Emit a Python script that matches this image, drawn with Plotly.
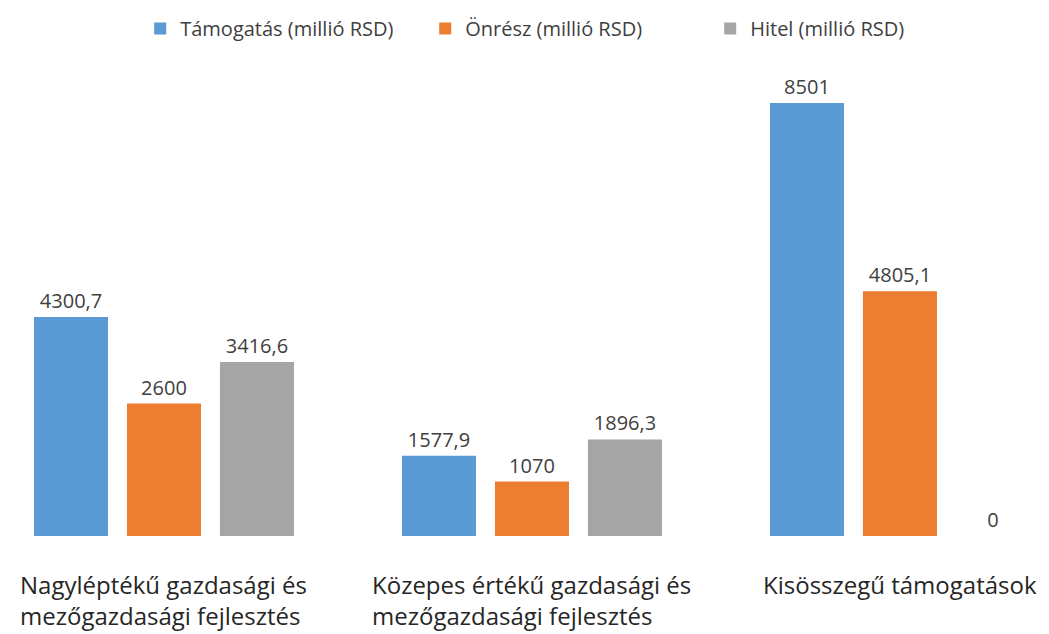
import plotly.graph_objects as go

# categories and series (millió RSD)
categories = [
    "Nagyléptékű gazdasági és<br>mezőgazdasági fejlesztés",
    "Közepes értékű gazdasági és<br>mezőgazdasági fejlesztés",
    "Kisösszegű támogatások",
]
series_names = ["Támogatás (millió RSD)", "Önrész (millió RSD)", "Hitel (millió RSD)"]
tamogatas = [4300.7, 1577.9, 8501]
onresz = [2600, 1070, 4805.1]
hitel = [3416.6, 1896.3, 0]
colors = ["#5B9BD5", "#ED7D31", "#A5A5A5"]

FONT = "Open Sans, Noto Sans, sans-serif"
TEXT_COLOR = "#404040"


def fmt(v):
    # magyar tizedesvessző
    return f"{v:g}".replace(".", ",")


x_idx = list(range(len(categories)))

fig = go.Figure()
for name, vals, col in zip(series_names, [tamogatas, onresz, hitel], colors):
    fig.add_trace(
        go.Bar(
            x=x_idx,
            y=vals,
            name=name,
            marker=dict(color=col, line=dict(width=0)),
            text=[fmt(v) for v in vals],
            textposition="outside",
            constraintext="none",
            textfont=dict(size=20, color=TEXT_COLOR, family=FONT),
            cliponaxis=False,
        )
    )

# kategóriafeliratok a csoportok alatt (blokk középen, sorok balra igazítva)
for i, cat in enumerate(categories):
    fig.add_annotation(
        x=i,
        y=0,
        xref="x",
        yref="paper",
        xanchor="center",
        yanchor="top",
        yshift=-30,
        text=cat,
        showarrow=False,
        align="left",
        font=dict(size=24, color="#262626", family=FONT),
    )

fig.update_layout(
    width=1041,
    height=626,
    margin=dict(l=0, r=0, t=52, b=98),
    barmode="group",
    bargap=0.242,
    bargroupgap=0.204,
    plot_bgcolor="white",
    paper_bgcolor="white",
    font=dict(family=FONT, color=TEXT_COLOR),
    showlegend=True,
    legend=dict(
        orientation="h",
        x=0.127,
        xanchor="left",
        y=1.066,
        yanchor="middle",
        entrywidth=240,
        font=dict(size=20, color=TEXT_COLOR),
        traceorder="normal",
    ),
    xaxis=dict(
        range=[-0.4239, 2.405],
        showticklabels=False,
        showgrid=False,
        zeroline=False,
        showline=False,
        ticks="",
    ),
    yaxis=dict(
        range=[0, 9345],
        visible=False,
        showgrid=False,
        zeroline=False,
    ),
)

fig.write_html("out.html")
